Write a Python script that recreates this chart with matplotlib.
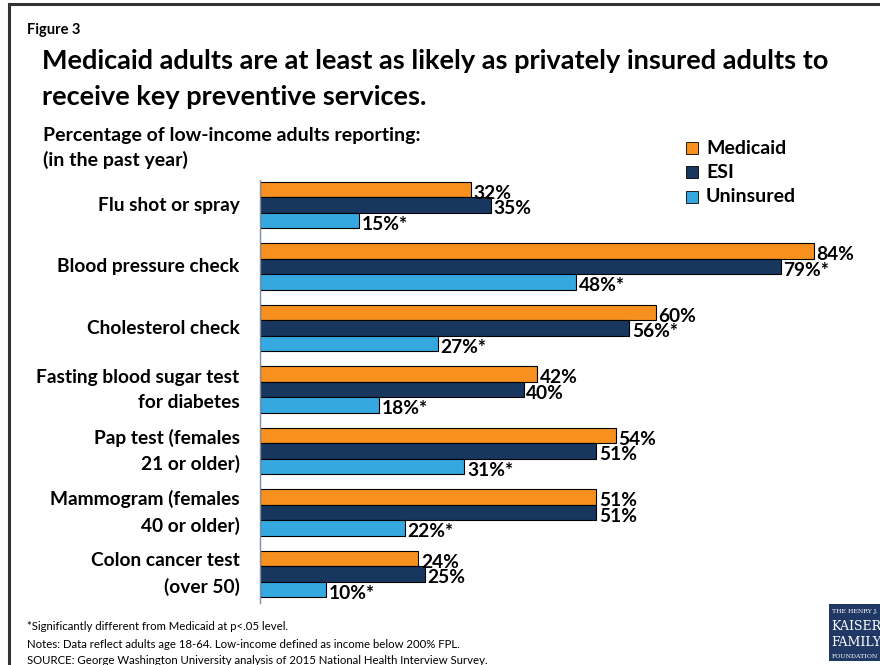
import matplotlib.pyplot as plt
from matplotlib.patches import Rectangle
import numpy as np

plt.rcParams['font.family'] = ['Lato', 'DejaVu Sans']

categories = ["Flu shot or spray", "Blood pressure check", "Cholesterol check",
              "Fasting blood sugar test\nfor diabetes", "Pap test (females\n21 or older)",
              "Mammogram (females\n40 or older)", "Colon cancer test\n(over 50)"]
medicaid = [32, 84, 60, 42, 54, 51, 24]
esi = [35, 79, 56, 40, 51, 51, 25]
uninsured = [15, 48, 27, 18, 31, 22, 10]
esi_sig = [False, True, True, False, False, False, False]
unins_sig = [True, True, True, True, True, True, True]
series_names = ["Medicaid", "ESI", "Uninsured"]
colors = ["#F7901E", "#17375E", "#35A8E0"]

W, H = 880, 665
fig = plt.figure(figsize=(8.8, 6.65), dpi=100)

def fx(px):
    return px / W

def fy(py):
    return 1 - py / H

# frame
fig.add_artist(plt.Line2D([fx(9), fx(9)], [fy(4), 0], color="#333333", lw=2.2))
fig.add_artist(plt.Line2D([fx(9), 1], [fy(4), fy(4)], color="#333333", lw=2.2))

ax = fig.add_axes([fx(260), fy(603), fx(600), (603 - 180) / H])
y = np.arange(len(categories))
h = 0.252
series = [medicaid, esi, uninsured]
sigs = [[False] * len(medicaid), esi_sig, unins_sig]
for k, (vals, col, sig) in enumerate(zip(series, colors, sigs)):
    pos = y + (k - 1) * h
    ax.barh(pos, vals, height=h, color=col, edgecolor="black", linewidth=0.8)
    for p, v, s in zip(pos, vals, sig):
        ax.text(v + 0.4, p + 0.06, f"{v}%" + ("*" if s else ""), ha="left", va="center",
                fontsize=13.8, fontweight="bold", color="black")

ax.set_xlim(0, 91)
ax.set_ylim(6.47, -0.41)
ax.set_xticks([])
ax.set_yticks([])
for sp in ["top", "right", "bottom"]:
    ax.spines[sp].set_visible(False)
ax.spines["left"].set_color("#7f8fa6")
ax.spines["left"].set_linewidth(1)

for i, c in enumerate(categories):
    ax.text(-0.034, y[i], c, transform=ax.get_yaxis_transform(), ha="right", va="center",
            fontsize=13.8, fontweight="bold", multialignment="right", linespacing=1.55)

# titles
fig.text(fx(27), fy(30), "Figure 3", fontsize=10.5, fontweight="bold", va="center")
fig.text(fx(42), fy(61), "Medicaid adults are at least as likely as privately insured adults to",
         fontsize=19.5, fontweight="bold", va="center")
fig.text(fx(42), fy(97), "receive key preventive services.", fontsize=19.5, fontweight="bold", va="center")
fig.text(fx(43), fy(136), "Percentage of low-income adults reporting:", fontsize=14,
         fontweight="bold", va="center")
fig.text(fx(43), fy(160), "(in the past year)", fontsize=14, fontweight="bold", va="center")

# legend
for k, (name, col) in enumerate(zip(series_names, colors)):
    yy = 148 + k * 24.5
    fig.add_artist(Rectangle((fx(686), fy(yy + 6)), fx(12), 12 / H, facecolor=col,
                             edgecolor="black", linewidth=0.6))
    fig.text(fx(706), fy(yy), name, fontsize=14, fontweight="bold", va="center")

# footnotes
notes = ["*Significantly different from Medicaid at p<.05 level.",
         "Notes: Data reflect adults age 18-64. Low-income defined as income below 200% FPL.",
         "SOURCE: George Washington University analysis of 2015 National Health Interview Survey."]
for i, n in enumerate(notes):
    fig.text(fx(27), fy(627 + i * 17), n, fontsize=8.2, va="center")

# logo
fig.add_artist(Rectangle((fx(829), fy(661)), fx(60), 57 / H, facecolor="#1F3864", edgecolor="none"))
fig.text(fx(832), fy(611), "THE HENRY J.", fontsize=4.5, color="white", family="DejaVu Serif", va="center")
fig.text(fx(831), fy(626), "KAISER", fontsize=9, color="white", family="DejaVu Serif", va="center")
fig.text(fx(831), fy(642), "FAMILY", fontsize=9, color="white", family="DejaVu Serif", va="center")
fig.text(fx(832), fy(656), "FOUNDATION", fontsize=4.5, color="white", family="DejaVu Serif", va="center")

fig.savefig("out.png", dpi=100)
